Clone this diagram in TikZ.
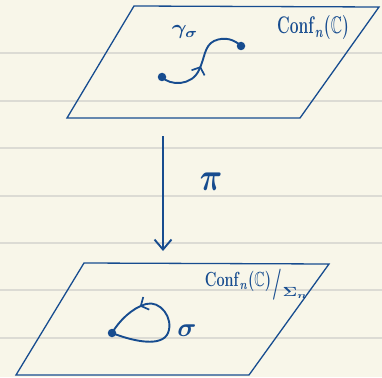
\documentclass[tikz,border=0pt]{standalone}
\usepackage{amssymb}
\usepackage{graphicx}
\usetikzlibrary{arrows.meta,decorations.markings}
\definecolor{ink}{HTML}{174C8F}
\definecolor{paper}{HTML}{F8F6E9}
\definecolor{rule}{HTML}{DCDBD4}
\tikzset{
  plane/.style={draw=ink, line width=1.3pt, line join=miter},
  curve/.style={draw=ink, line width=1.9pt, line cap=round},
  dot/.style={circle, fill=ink, inner sep=0pt, minimum size=8.5pt},
  lbl/.style={text=ink, inner sep=0pt, font=\fontsize{12}{14}\selectfont\boldmath},
  midarrow/.style={postaction={decorate, decoration={markings,
      mark=at position #1 with {\arrow[ink]{Straight Barb[length=6pt,width=14pt,line width=1.7pt]}}}}}
}
\begin{document}
\begin{tikzpicture}[x=1pt,y=-1pt]
\useasboundingbox (0,0) rectangle (382,377);
\fill[paper] (0,0) rectangle (382,377);
\foreach \yy in {53,101,148,196,243,290,338}
  \draw[rule, line width=1.2pt] (0,\yy) -- (382,\yy);
% planes
\draw[plane] (134,6) -- (379,7) -- (300,118) -- (67,118) -- cycle;
\draw[plane] (84,263) -- (329,264) -- (249,375) -- (16,375) -- cycle;
% projection arrow
\coordinate (ptop) at (163,136);
\coordinate (pbot) at (163,251);
\draw[curve, line cap=butt, -{Straight Barb[length=10pt,width=17pt,line width=1.9pt]}] (ptop) -- (pbot);
\node[lbl] (pi) at (211,182) {\scalebox{2.6}[3.3]{$\pi$}};
% labels
\node[lbl] (conf) at (313,28) {\scalebox{1.3}[2.0]{$\mathbf{Conf}_n(\mathbb{C})$}};
\node[lbl] (confq) at (238,281) {\scalebox{1.2}[1.7]{$\mathbf{Conf}_n(\mathbb{C})$}};
\node[lbl] (quot) at (277,285) {\scalebox{1.4}[2.6]{$/$}};
\node[lbl] (sym) at (295,293) {\scalebox{1.5}[1.1]{$\Sigma_n$}};
\node[lbl] (gam) at (185,32) {\scalebox{1.9}[1.7]{$\gamma_\sigma$}};
\node[lbl] (sig) at (187,331) {\scalebox{2.2}[2.2]{$\sigma$}};
% path gamma_sigma
\node[dot] (a) at (162,77) {};
\node[dot] (b) at (241,46) {};
\draw[curve, midarrow=0.45] (a.center) .. controls (170,86) and (192,86) .. (199,70)
   .. controls (205,58) and (204,46) .. (214,41)
   .. controls (225,36) and (235,40) .. (b.center);
% loop sigma
\node[dot] (c) at (112,333) {};
\draw[curve, midarrow=0.74] (c.center) .. controls (135,342) and (162,347) .. (168,333)
   .. controls (174,318) and (160,300) .. (146,304)
   .. controls (132,308) and (119,321) .. (c.center);
\end{tikzpicture}
\end{document}
